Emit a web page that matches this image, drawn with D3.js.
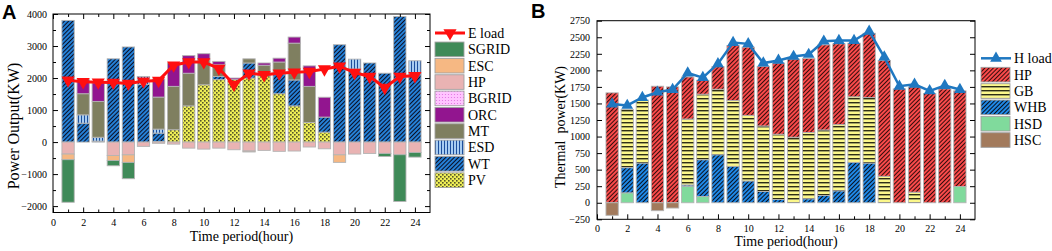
<!DOCTYPE html>
<html>
<head>
<meta charset="utf-8">
<script src="https://cdn.jsdelivr.net/npm/d3@7"></script>
<style>
  body { margin: 0; background: #fff; }
  text { font-family: "Liberation Serif", "Times New Roman", serif; }
</style>
</head>
<body>
<div id="chart"></div>
<script>
// 时段
const hours = [1,2,3,4,5,6,7,8,9,10,11,12,13,14,15,16,17,18,19,20,21,22,23,24];

// A 电功率 (kW)
const PV    = [0,0,0,0,0,0,20,385,1130,1790,1950,1950,2000,2070,1510,1130,610,310,0,0,0,0,0,0];
const WT    = [3800,590,30,2600,2970,1800,260,0,0,0,100,0,470,120,620,810,0,470,3040,2280,2470,2150,3920,2130];
const ESD   = [0,260,120,0,0,250,125,0,0,0,0,0,0,0,0,0,0,0,0,310,0,0,0,410];
const MT    = [0,660,1120,0,0,0,1000,1355,1020,780,365,0,130,210,370,1150,1130,0,0,0,0,0,0,0];
const ORC   = [0,440,580,0,0,0,565,730,550,190,105,50,0,70,120,190,640,620,0,0,0,0,0,0];
const BGRID = [0,0,0,0,0,0,0,0,0,0,0,0,0,0,0,0,0,0,0,0,0,0,0,0];
const HPe   = [-375,0,0,-420,-400,-135,-40,-65,-190,-220,-190,-240,-280,-260,-290,-280,-155,-210,-400,-375,-355,-355,-395,-325];
const ESC   = [-175,0,0,-155,-235,0,0,0,0,0,0,0,-30,0,0,0,0,0,-235,0,0,0,0,0];
const SGRID = [-1330,0,0,-165,-510,0,0,0,0,0,0,0,0,0,0,0,0,0,0,0,0,-95,-1460,-145];
const Eload = [1930,1880,1870,1860,1830,1900,1920,2400,2500,2500,2300,1800,2150,2100,2150,2180,2200,2280,2370,2170,2050,1700,2050,2070];

// B 热功率 (kW)
const HSD   = [0,150,0,0,0,250,95,0,0,0,0,0,0,0,0,0,0,0,0,0,0,0,0,245];
const WHB   = [0,380,600,0,0,20,555,725,550,330,170,50,0,60,110,180,610,600,0,0,0,0,0,0];
const GB    = [0,880,950,0,0,995,990,990,995,990,990,985,990,1000,990,1000,990,990,400,0,160,0,0,0];
const HPh   = [1660,0,0,1760,1750,635,210,340,830,1030,900,1075,1180,1120,1285,1220,810,970,1750,1720,1590,1650,1720,1445];
const HSC   = [-190,0,0,-120,-80,0,0,0,0,0,0,0,0,0,0,0,0,0,0,0,0,0,0,0];
const Hload = [1490,1470,1590,1670,1710,1960,1890,2100,2420,2400,2110,2150,2210,2240,2440,2450,2450,2590,2200,1760,1790,1690,1770,1710];

// 刻度
const xMajor = [0,2,4,6,8,10,12,14,16,18,20,22,24];
const xMinor = [1,3,5,7,9,11,13,15,17,19,21,23];
const yMajorA = [-2000,-1000,0,1000,2000,3000,4000];
const yMinorA = [-1500,-500,500,1500,2500,3500];
const yTicksB = [-250,0,250,500,750,1000,1250,1500,1750,2000,2250,2500,2750];

const svg = d3.select("#chart").append("svg")
  .attr("width", 1052).attr("height", 251);
svg.append("rect").attr("width", 1052).attr("height", 251).attr("fill", "#fff");

// 填充图案
const defs = svg.append("defs");
function hatch(id, bg, line, w, lw) {
  const p = defs.append("pattern").attr("id", id).attr("patternUnits", "userSpaceOnUse")
    .attr("width", w).attr("height", w).attr("patternTransform", "rotate(45)");
  p.append("rect").attr("width", w).attr("height", w).attr("fill", bg);
  p.append("rect").attr("width", lw).attr("height", w).attr("fill", line);
}
hatch("pWT", "#2580d6", "#0b0f24", 3, 1);
hatch("pHP", "#fa4a4a", "#1e0606", 3, 0.9);
hatch("pWHB", "#1f88e6", "#08101e", 3, 1);

let p = defs.append("pattern").attr("id", "pPV").attr("patternUnits", "userSpaceOnUse")
  .attr("width", 4).attr("height", 4);
p.append("rect").attr("width", 4).attr("height", 4).attr("fill", "#eeee55");
p.append("rect").attr("width", 1.6).attr("height", 1.6).attr("fill", "#55552a");
p.append("rect").attr("x", 2).attr("y", 2).attr("width", 1.6).attr("height", 1.6).attr("fill", "#55552a");

p = defs.append("pattern").attr("id", "pESD").attr("patternUnits", "userSpaceOnUse")
  .attr("width", 3).attr("height", 3);
p.append("rect").attr("width", 3).attr("height", 3).attr("fill", "#a8cdf2");
p.append("rect").attr("width", 1).attr("height", 3).attr("fill", "#1d4f9c");

p = defs.append("pattern").attr("id", "pBGRID").attr("patternUnits", "userSpaceOnUse")
  .attr("width", 3).attr("height", 3);
p.append("rect").attr("width", 3).attr("height", 3).attr("fill", "#ffc4ff");
p.append("circle").attr("cx", 1.5).attr("cy", 1.5).attr("r", 0.6).attr("fill", "#e070e0");

p = defs.append("pattern").attr("id", "pGB").attr("patternUnits", "userSpaceOnUse")
  .attr("width", 4).attr("height", 4);
p.append("rect").attr("width", 4).attr("height", 4).attr("fill", "#fbf78a");
p.append("rect").attr("y", 2).attr("width", 4).attr("height", 1).attr("fill", "#2e2e14");
p.append("rect").attr("y", 3).attr("width", 4).attr("height", 1).attr("fill", "#a3a366");

const fillsA = {PV: "url(#pPV)", WT: "url(#pWT)", ESD: "url(#pESD)", MT: "#7f7f60", ORC: "#92158f",
  BGRID: "url(#pBGRID)", HP: "#e9b3b3", ESC: "#f6b883", SGRID: "#3f8a58"};
const fillsB = {HSD: "#80da9c", WHB: "url(#pWHB)", GB: "url(#pGB)", HP: "url(#pHP)", HSC: "#a27a5c"};

function drawPanel(o) {
  const x = d3.scaleLinear().domain([0, 25]).range([o.x0, o.x1]);
  const y = d3.scaleLinear().domain(o.yDom).range([o.y1, o.y0]);
  const g = svg.append("g");

  const rows = hours.map((h, i) => {
    const r = {hour: h};
    o.keys.forEach(k => r[k] = o.series[k][i]);
    return r;
  });
  const stack = d3.stack().keys(o.keys).offset(d3.stackOffsetDiverging)(rows);
  const bw = 12.3;
  stack.forEach(layer => {
    g.selectAll(null).data(layer.filter(d => d[1] !== d[0])).enter().append("rect")
      .attr("x", d => x(d.data.hour) - bw / 2)
      .attr("width", bw)
      .attr("y", d => y(Math.max(d[0], d[1])))
      .attr("height", d => Math.abs(y(d[0]) - y(d[1])))
      .attr("fill", o.fills[layer.key])
      .attr("stroke", "#b4b4b4").attr("stroke-width", 0.9);
  });

  // 负荷曲线
  const line = d3.line().x((d, i) => x(hours[i])).y(d => y(d));
  g.append("path").datum(o.load).attr("d", line).attr("fill", "none")
    .attr("stroke", o.lineColor).attr("stroke-width", o.lineWidth);
  const tri = d3.symbol().type(d3.symbolTriangle).size(o.markerSize);
  g.selectAll(null).data(o.load).enter().append("path")
    .attr("d", tri)
    .attr("transform", (d, i) => "translate(" + x(hours[i]) + "," + y(d) + ")" + (o.down ? " rotate(180)" : ""))
    .attr("fill", o.lineColor);

  // 坐标轴
  const axes = svg.append("g").attr("font-size", o.tickFont);
  axes.append("g").attr("transform", "translate(0," + o.y1 + ")")
    .call(d3.axisBottom(x).tickValues(xMajor).tickSize(-5).tickPadding(6).tickFormat(d3.format("d")));
  axes.append("g").attr("transform", "translate(0," + o.y1 + ")")
    .call(d3.axisBottom(x).tickValues(xMinor).tickSize(-3).tickFormat(""));
  axes.append("g").attr("transform", "translate(" + o.x0 + ",0)")
    .call(d3.axisLeft(y).tickValues(o.yMajor).tickSize(-5).tickPadding(o.yPad).tickFormat(d3.format("d")));
  axes.append("g").attr("transform", "translate(" + o.x1 + ",0)")
    .call(d3.axisRight(y).tickValues(o.yMajor).tickSize(-5).tickFormat(""));
  if (o.yMinor) {
    axes.append("g").attr("transform", "translate(" + o.x0 + ",0)")
      .call(d3.axisLeft(y).tickValues(o.yMinor).tickSize(-3).tickFormat(""));
    axes.append("g").attr("transform", "translate(" + o.x1 + ",0)")
      .call(d3.axisRight(y).tickValues(o.yMinor).tickSize(-3).tickFormat(""));
  }
  if (o.topTicks) {
    axes.append("g").attr("transform", "translate(0," + o.y0 + ")")
      .call(d3.axisTop(x).tickValues(xMajor).tickSize(-5).tickFormat(""));
    axes.append("g").attr("transform", "translate(0," + o.y0 + ")")
      .call(d3.axisTop(x).tickValues(xMinor).tickSize(-3).tickFormat(""));
  }
  axes.selectAll(".domain").remove();
  axes.selectAll("text").attr("font-family", "Liberation Serif, Times New Roman, serif").attr("fill", "#000");
  svg.append("rect").attr("x", o.x0).attr("y", o.y0)
    .attr("width", o.x1 - o.x0).attr("height", o.y1 - o.y0)
    .attr("fill", "none").attr("stroke", "#000").attr("stroke-width", 1);

  // 标题
  svg.append("text").attr("x", (o.x0 + o.x1) / 2).attr("y", o.xTitleY)
    .attr("text-anchor", "middle").attr("font-size", 14).text("Time period(hour)");
  svg.append("text").attr("transform", "translate(" + o.yTitleX + "," + o.yTitleMid + ") rotate(-90)")
    .attr("text-anchor", "middle").attr("font-size", o.yTitleFont)
    .style("white-space", "pre").text(o.yTitle);
  svg.append("text").attr("x", o.labelX).attr("y", o.labelY)
    .attr("font-weight", "bold").attr("font-size", 20)
    .style("font-family", "Liberation Sans, Arial, sans-serif").text(o.label);

  // 图例
  const lg = svg.append("g").attr("font-size", 14);
  const lx = o.legX, step = 16.35;
  lg.append("line").attr("x1", lx).attr("x2", lx + 30).attr("y1", o.legY).attr("y2", o.legY)
    .attr("stroke", o.lineColor).attr("stroke-width", o.lineWidth);
  lg.append("path").attr("d", tri)
    .attr("transform", "translate(" + (lx + 15) + "," + o.legY + ")" + (o.down ? " rotate(180)" : ""))
    .attr("fill", o.lineColor);
  lg.append("text").attr("x", lx + 33).attr("y", o.legY + 5).text(o.loadName);
  o.legend.forEach((k, i) => {
    const cy = o.legY + step * (i + 1);
    lg.append("rect").attr("x", lx).attr("y", cy - 7.3).attr("width", 29).attr("height", 14.6)
      .attr("fill", o.fills[k]).attr("stroke", "#a0a0a0").attr("stroke-width", 0.9);
    lg.append("text").attr("x", lx + 33).attr("y", cy + 5).text(k);
  });
}

drawPanel({
  x0: 53, x1: 430, y0: 14, y1: 212.5, yDom: [-2200, 4000],
  keys: ["PV", "WT", "ESD", "MT", "ORC", "BGRID", "HP", "ESC", "SGRID"],
  series: {PV: PV, WT: WT, ESD: ESD, MT: MT, ORC: ORC, BGRID: BGRID, HP: HPe, ESC: ESC, SGRID: SGRID},
  fills: fillsA, load: Eload, lineColor: "#ff0f0f", lineWidth: 3, markerSize: 75, down: true,
  yMajor: yMajorA, yMinor: yMinorA, yPad: 6, tickFont: 12, topTicks: true,
  xTitleY: 241, yTitle: "Power Output(KW)", yTitleX: 19, yTitleMid: 126, yTitleFont: 16,
  label: "A", labelX: 2, labelY: 19,
  legX: 435, legY: 33, loadName: "E load",
  legend: ["SGRID", "ESC", "HP", "BGRID", "ORC", "MT", "ESD", "WT", "PV"]
});

drawPanel({
  x0: 597, x1: 975, y0: 20.7, y1: 219.3, yDom: [-250, 2750],
  keys: ["HSD", "WHB", "GB", "HP", "HSC"],
  series: {HSD: HSD, WHB: WHB, GB: GB, HP: HPh, HSC: HSC},
  fills: fillsB, load: Hload, lineColor: "#1f78c1", lineWidth: 2.5, markerSize: 60, down: false,
  yMajor: yTicksB, yMinor: null, yPad: 7, tickFont: 11, topTicks: false,
  xTitleY: 246, yTitle: "Thermal  power(KW)", yTitleX: 565, yTitleMid: 127, yTitleFont: 14,
  label: "B", labelX: 531, labelY: 18,
  legX: 981, legY: 58.3, loadName: "H load",
  legend: ["HP", "GB", "WHB", "HSD", "HSC"]
});
</script>
</body>
</html>
